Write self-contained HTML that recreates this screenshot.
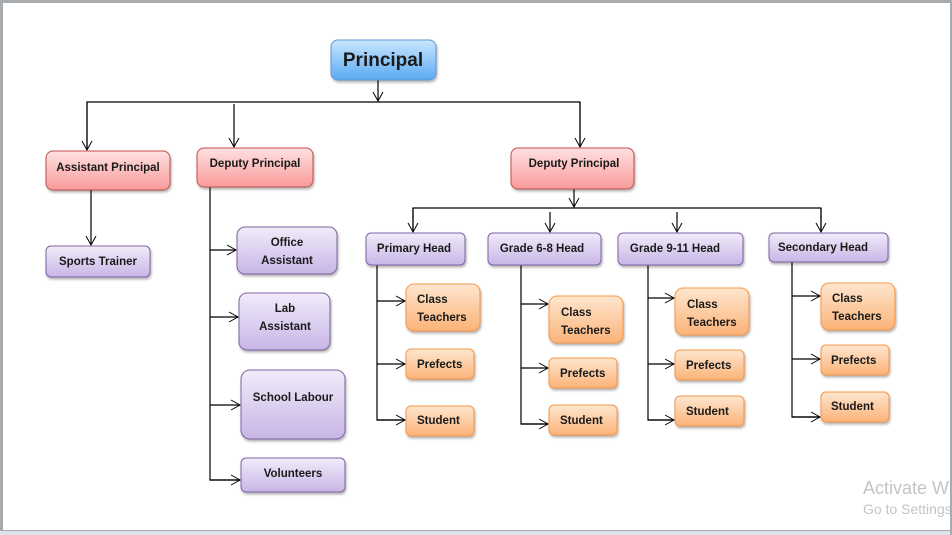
<!DOCTYPE html>
<html><head><meta charset="utf-8"><style>
html,body{margin:0;padding:0;background:#fff;}
svg{display:block;}
text{font-family:"Liberation Sans",sans-serif;font-weight:bold;fill:#1a1a1a;}
</style></head><body>
<svg width="952" height="535" viewBox="0 0 952 535" xmlns="http://www.w3.org/2000/svg">
<defs>
<linearGradient id="gb" x1="0" y1="0" x2="0" y2="1"><stop offset="0" stop-color="#c9e6ff"/><stop offset="1" stop-color="#5aaaf2"/></linearGradient>
<linearGradient id="gr" x1="0" y1="0" x2="0" y2="1"><stop offset="0" stop-color="#ffe1e1"/><stop offset="1" stop-color="#f99a9a"/></linearGradient>
<linearGradient id="gp" x1="0" y1="0" x2="0" y2="1"><stop offset="0" stop-color="#f1ecfa"/><stop offset="1" stop-color="#c8b5e6"/></linearGradient>
<linearGradient id="go" x1="0" y1="0" x2="0" y2="1"><stop offset="0" stop-color="#fee6cf"/><stop offset="1" stop-color="#fbb378"/></linearGradient>
<filter id="sh" x="-10%" y="-10%" width="130%" height="140%"><feDropShadow dx="1" dy="2" stdDeviation="1.2" flood-color="#000" flood-opacity="0.3"/></filter>
<marker id="ar" markerWidth="12" markerHeight="12" refX="10" refY="6" orient="auto" markerUnits="userSpaceOnUse"><polyline points="1,1 10,6 1,11" fill="none" stroke="#000" stroke-width="1"/></marker>
</defs>
<rect x="0" y="0" width="952" height="535" fill="#a9acaf"/>
<rect x="3" y="3" width="947" height="527" fill="#fff"/>
<rect x="0" y="531" width="952" height="4" fill="#dfe3e8"/>

<g stroke="#000" stroke-width="1.2" fill="none">
<line x1="378" y1="80" x2="378" y2="101" marker-end="url(#ar)"/>
<polyline points="87,150 87,102 580,102 580,147" />
<line x1="87" y1="102" x2="87" y2="150" marker-end="url(#ar)"/>
<line x1="580" y1="102" x2="580" y2="147" marker-end="url(#ar)"/>
<line x1="234" y1="104" x2="234" y2="147" marker-end="url(#ar)"/>
<line x1="91" y1="190" x2="91" y2="245" marker-end="url(#ar)"/>
<polyline points="210,187 210,480 240,480"/>
<line x1="210" y1="250" x2="236" y2="250" marker-end="url(#ar)"/>
<line x1="210" y1="317" x2="238" y2="317" marker-end="url(#ar)"/>
<line x1="210" y1="405" x2="240" y2="405" marker-end="url(#ar)"/>
<line x1="210" y1="480" x2="240" y2="480" marker-end="url(#ar)"/>
<line x1="574" y1="189" x2="574" y2="207" marker-end="url(#ar)"/>
<polyline points="413,232 413,208 821,208 821,232"/>
<line x1="413" y1="208" x2="413" y2="232" marker-end="url(#ar)"/>
<line x1="550" y1="212" x2="550" y2="232" marker-end="url(#ar)"/>
<line x1="677" y1="212" x2="677" y2="232" marker-end="url(#ar)"/>
<line x1="821" y1="208" x2="821" y2="232" marker-end="url(#ar)"/>
<polyline points="377,265 377,420 405,420"/>
<line x1="377" y1="301" x2="405" y2="301" marker-end="url(#ar)"/>
<line x1="377" y1="364" x2="405" y2="364" marker-end="url(#ar)"/>
<line x1="377" y1="420" x2="405" y2="420" marker-end="url(#ar)"/>
<polyline points="521,265 521,424 548,424"/>
<line x1="521" y1="304" x2="548" y2="304" marker-end="url(#ar)"/>
<line x1="521" y1="368" x2="548" y2="368" marker-end="url(#ar)"/>
<line x1="521" y1="424" x2="548" y2="424" marker-end="url(#ar)"/>
<polyline points="648,265 648,420 674,420"/>
<line x1="648" y1="298" x2="674" y2="298" marker-end="url(#ar)"/>
<line x1="648" y1="364" x2="674" y2="364" marker-end="url(#ar)"/>
<line x1="648" y1="420" x2="674" y2="420" marker-end="url(#ar)"/>
<polyline points="792,262 792,417 820,417"/>
<line x1="792" y1="296" x2="820" y2="296" marker-end="url(#ar)"/>
<line x1="792" y1="359" x2="820" y2="359" marker-end="url(#ar)"/>
<line x1="792" y1="417" x2="820" y2="417" marker-end="url(#ar)"/>
</g>

<g filter="url(#sh)">
<rect x="331" y="40" width="105" height="40" rx="7" fill="url(#gb)" stroke="#5b9bd5"/>
<rect x="46" y="151" width="124" height="39" rx="7" fill="url(#gr)" stroke="#c0504d"/>
<rect x="197" y="148" width="116" height="39" rx="7" fill="url(#gr)" stroke="#c0504d"/>
<rect x="511" y="148" width="123" height="41" rx="7" fill="url(#gr)" stroke="#c0504d"/>
<g fill="url(#gp)" stroke="#8064a2">
<rect x="46" y="246" width="104" height="31" rx="5"/>
<rect x="237" y="227" width="100" height="47" rx="8"/>
<rect x="239" y="293" width="91" height="57" rx="8"/>
<rect x="241" y="370" width="104" height="69" rx="9"/>
<rect x="241" y="458" width="104" height="34" rx="5"/>
<rect x="366" y="233" width="99" height="32" rx="5"/>
<rect x="488" y="233" width="113" height="32" rx="5"/>
<rect x="618" y="233" width="125" height="32" rx="5"/>
<rect x="769" y="233" width="119" height="29" rx="5"/>
</g>
<g fill="url(#go)" stroke="#f79646">
<rect x="406" y="284" width="74" height="47" rx="8"/>
<rect x="406" y="349" width="68" height="30" rx="5"/>
<rect x="406" y="406" width="68" height="30" rx="5"/>
<rect x="549" y="296" width="74" height="47" rx="8"/>
<rect x="549" y="358" width="68" height="30" rx="5"/>
<rect x="549" y="405" width="68" height="30" rx="5"/>
<rect x="675" y="288" width="74" height="47" rx="8"/>
<rect x="675" y="350" width="69" height="30" rx="5"/>
<rect x="675" y="396" width="69" height="30" rx="5"/>
<rect x="821" y="283" width="74" height="47" rx="8"/>
<rect x="821" y="345" width="68" height="30" rx="5"/>
<rect x="821" y="392" width="68" height="30" rx="5"/>
</g>
</g>

<text x="383" y="66" font-size="19" text-anchor="middle">Principal</text>
<g font-size="11.5">
<text x="108" y="171" text-anchor="middle">Assistant  Principal</text>
<text x="255" y="167" text-anchor="middle">Deputy Principal</text>
<text x="574" y="167" text-anchor="middle">Deputy Principal</text>
<text x="98" y="265" text-anchor="middle">Sports Trainer</text>
<text x="287" y="246" text-anchor="middle">Office</text>
<text x="287" y="264" text-anchor="middle">Assistant</text>
<text x="285" y="312" text-anchor="middle">Lab</text>
<text x="285" y="330" text-anchor="middle">Assistant</text>
<text x="293" y="401" text-anchor="middle">School Labour</text>
<text x="293" y="477" text-anchor="middle">Volunteers</text>
<text x="414" y="252" text-anchor="middle">Primary Head</text>
<text x="542" y="252" text-anchor="middle">Grade 6-8 Head</text>
<text x="675" y="252" text-anchor="middle">Grade 9-11 Head</text>
<text x="823" y="251" text-anchor="middle">Secondary Head</text>
<text x="417" y="303">Class</text><text x="417" y="321">Teachers</text>
<text x="417" y="368">Prefects</text>
<text x="417" y="424">Student</text>
<text x="561" y="316">Class</text><text x="561" y="334">Teachers</text>
<text x="560" y="377">Prefects</text>
<text x="560" y="424">Student</text>
<text x="687" y="308">Class</text><text x="687" y="326">Teachers</text>
<text x="686" y="369">Prefects</text>
<text x="686" y="415">Student</text>
<text x="832" y="302">Class</text><text x="832" y="320">Teachers</text>
<text x="831" y="364">Prefects</text>
<text x="831" y="410">Student</text>
</g>
<text x="863" y="494" font-size="18" style="font-weight:normal;fill:#c4c4c4">Activate W</text>
<text x="863" y="514" font-size="14" style="font-weight:normal;fill:#c4c4c4">Go to Settings</text>
<rect x="950" y="0" width="2" height="535" fill="#a9acaf"/>
</svg>
</body></html>
